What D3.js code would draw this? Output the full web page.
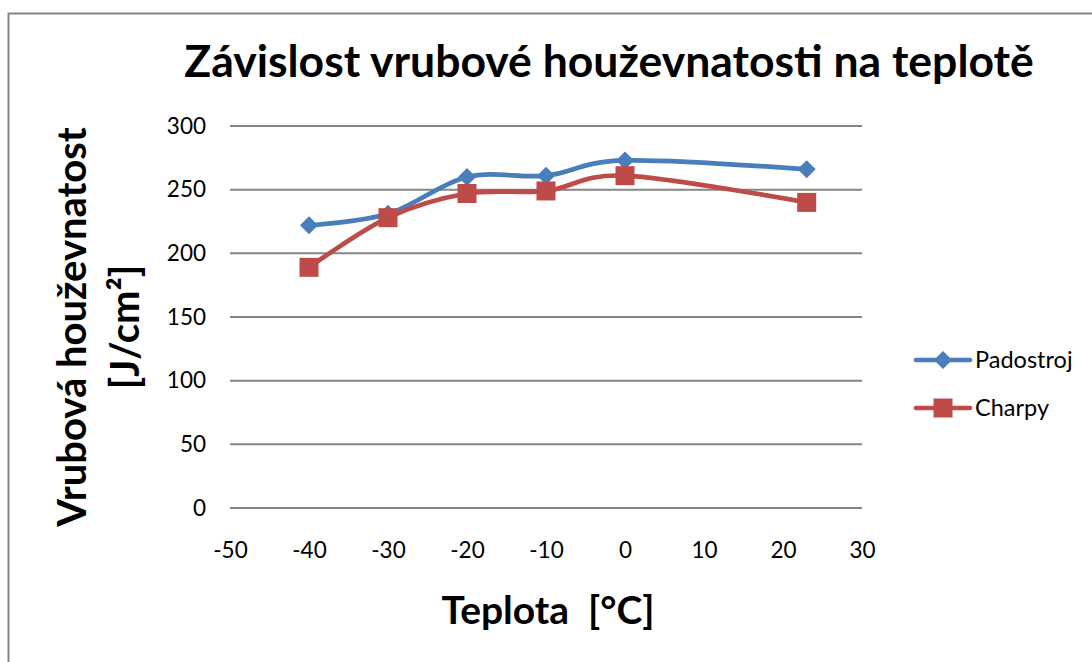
<!DOCTYPE html>
<html>
<head>
<meta charset="utf-8">
<script src="https://cdn.jsdelivr.net/npm/d3@7"></script>
<style>
  html, body { margin: 0; padding: 0; background: #fff; }
  svg { display: block; font-family: Lato, "Open Sans", sans-serif; }
</style>
</head>
<body>
<svg id="chart" width="1092" height="662"></svg>
<script>
// Temperature (°C) at which each sample set was tested
const temperatures = [-40, -30, -20, -10, 0, 23];
// Notch toughness [J/cm²] per method
const padostroj = [222, 231, 260, 261, 273, 266];
const charpy = [189, 228, 247, 249, 261, 240];

const xTicks = [-50, -40, -30, -20, -10, 0, 10, 20, 30];
const yTicks = [0, 50, 100, 150, 200, 250, 300];

const seriesList = [
  { name: "Padostroj", values: padostroj, color: "#4a7ebb", marker: "diamond" },
  { name: "Charpy", values: charpy, color: "#be4b48", marker: "square" }
];

const svg = d3.select("#chart");

// Chart frame
svg.append("rect")
  .attr("x", 8.5).attr("y", 13.5)
  .attr("width", 1200).attr("height", 800)
  .attr("fill", "#fff")
  .attr("stroke", "#868686").attr("stroke-width", 2);

const x = d3.scaleLinear().domain([-50, 30]).range([230, 862]);
const y = d3.scaleLinear().domain([0, 300]).range([508, 126]);

// Horizontal gridlines
svg.append("g")
  .selectAll("line")
  .data(yTicks)
  .join("line")
  .attr("x1", x(-50)).attr("x2", x(30))
  .attr("y1", d => y(d)).attr("y2", d => y(d))
  .attr("stroke", "#868686").attr("stroke-width", 2);

const plain = d => String(d);

// Y axis labels
const yAxis = d3.axisLeft(y).tickValues(yTicks).tickFormat(plain).tickSize(0).tickPadding(0);
svg.append("g")
  .attr("transform", "translate(206,0)")
  .call(yAxis)
  .call(g => g.select(".domain").remove())
  .call(g => g.selectAll("text")
    .attr("font-family", "Lato, sans-serif")
    .attr("font-size", 22.5)
    .attr("fill", "#000"));

// X axis labels
const xAxis = d3.axisBottom(x).tickValues(xTicks).tickFormat(plain).tickSize(0).tickPadding(0);
svg.append("g")
  .attr("transform", "translate(0,542)")
  .call(xAxis)
  .call(g => g.select(".domain").remove())
  .call(g => g.selectAll("text")
    .attr("font-family", "Lato, sans-serif")
    .attr("font-size", 22.5)
    .attr("fill", "#000"));

// Smoothed series lines
const line = d3.line()
  .x((d, i) => x(temperatures[i]))
  .y(d => y(d))
  .curve(d3.curveCatmullRom.alpha(0));

const diamond = s => `M0,${-s}L${s},0L0,${s}L${-s},0Z`;

seriesList.forEach(s => {
  svg.append("path")
    .datum(s.values)
    .attr("d", line)
    .attr("fill", "none")
    .attr("stroke", s.color)
    .attr("stroke-width", 4.7)
    .attr("stroke-linejoin", "round")
    .attr("stroke-linecap", "round");
});

seriesList.forEach(s => {
  const g = svg.append("g");
  if (s.marker === "diamond") {
    g.selectAll("path")
      .data(s.values)
      .join("path")
      .attr("transform", (d, i) => `translate(${x(temperatures[i])},${y(d)})`)
      .attr("d", diamond(9))
      .attr("fill", s.color);
  } else {
    g.selectAll("rect")
      .data(s.values)
      .join("rect")
      .attr("x", (d, i) => x(temperatures[i]) - 9.5)
      .attr("y", d => y(d) - 9.5)
      .attr("width", 19).attr("height", 19)
      .attr("fill", s.color);
  }
});

// Legend
const legend = svg.append("g");
seriesList.forEach((s, i) => {
  const ly = 360 + i * 48;
  const row = legend.append("g").attr("transform", `translate(0,${ly})`);
  row.append("line")
    .attr("x1", 916).attr("x2", 970)
    .attr("stroke", s.color).attr("stroke-width", 4.7)
    .attr("stroke-linecap", "round");
  if (s.marker === "diamond") {
    row.append("path").attr("transform", "translate(943,0)")
      .attr("d", diamond(9)).attr("fill", s.color);
  } else {
    row.append("rect").attr("x", 933.5).attr("y", -9.5)
      .attr("width", 19).attr("height", 19).attr("fill", s.color);
  }
  row.append("text")
    .attr("x", 975).attr("y", 8)
    .attr("font-size", 23.5)
    .text(s.name);
});

// Title
svg.append("text")
  .attr("x", 609).attr("y", 77)
  .attr("text-anchor", "middle")
  .attr("font-size", 44.5).attr("font-weight", "bold")
  .text("Závislost vrubové houževnatosti na teplotě");

// X axis title
svg.append("text")
  .attr("x", 548).attr("y", 624)
  .attr("text-anchor", "middle")
  .attr("font-size", 39).attr("font-weight", "bold")
  .attr("xml:space", "preserve")
  .text("Teplota  [°C]");

// Y axis title, two lines
const yTitle = svg.append("text")
  .attr("transform", "translate(0,327) rotate(-90)")
  .attr("text-anchor", "middle")
  .attr("font-size", 40).attr("font-weight", "bold");
yTitle.append("tspan").attr("x", 0).attr("y", 86).text("Vrubová houževnatost");
yTitle.append("tspan").attr("x", 0).attr("y", 139).text("[J/cm²]");
</script>
</body>
</html>
